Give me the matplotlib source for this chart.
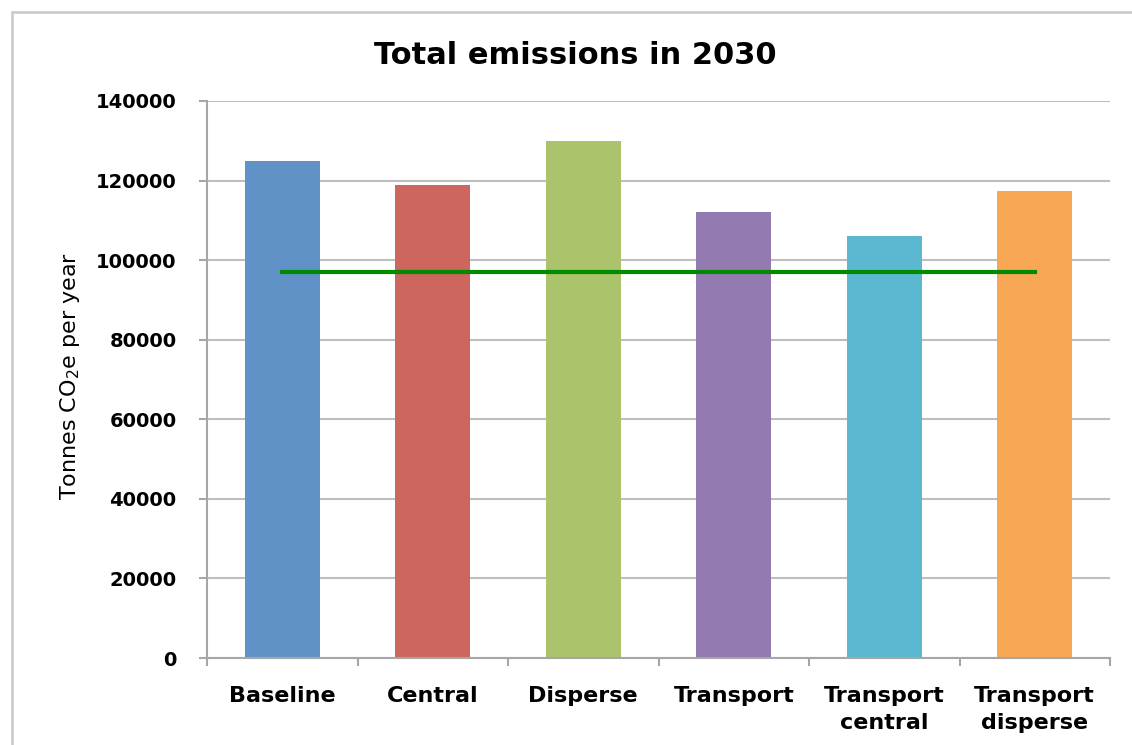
import matplotlib
matplotlib.use("Agg")
import matplotlib.pyplot as plt
from matplotlib.patches import Rectangle

# Scenario totals
categories = ["Baseline", "Central", "Disperse", "Transport", "Transport\ncentral", "Transport\ndisperse"]
emissions = [125000, 119000, 130000, 112000, 106000, 117500]
target = 97000
bar_colors = ["#6092C8", "#CD665E", "#ABC46B", "#937AB1", "#5CB7D1", "#F8A754"]
yticks = [0, 20000, 40000, 60000, 80000, 100000, 120000, 140000]

plt.rcParams["font.family"] = ["DejaVu Sans"]
plt.rcParams["mathtext.fontset"] = "dejavusans"

fig = plt.figure(figsize=(11.32, 7.45), dpi=100)
ax = fig.add_axes([207 / 1132, 1 - 658 / 745, (1110 - 207) / 1132, (658 - 101) / 745])

# outer chart frame
fig.patches.append(Rectangle((12 / 1132, -0.1), 1.2, 1 - 12 / 745 + 0.1,
                             transform=fig.transFigure, fill=False,
                             edgecolor="#C8C8C8", linewidth=1.8, zorder=0))

x = list(range(len(categories)))
ax.bar(x, emissions, width=0.5, color=bar_colors, zorder=2)
ax.plot([x[0], x[-1]], [target, target], color="#008A00", linewidth=3, zorder=3)

ax.set_xlim(-0.5, len(categories) - 0.5)
ax.set_ylim(0, 140000)
ax.set_yticks(yticks)
ax.set_yticklabels([str(v) for v in yticks], fontsize=14, fontweight="bold")
ax.yaxis.grid(True, color="#BEBEBE", linewidth=1.5, zorder=0)
ax.set_axisbelow(True)

ax.set_xticks(x)
ax.set_xticklabels(categories, fontsize=16, fontweight="bold", linespacing=1.45)
ax.tick_params(axis="x", length=0, pad=20)
ax.set_xticks([i - 0.5 for i in range(len(categories) + 1)], minor=True)
ax.tick_params(axis="x", which="minor", length=6, width=1.5, color="#A6A6A6")
ax.tick_params(axis="y", length=6, width=1.5, color="#A6A6A6", pad=16)

for side in ["top", "right"]:
    ax.spines[side].set_visible(False)
for side in ["left", "bottom"]:
    ax.spines[side].set_color("#A6A6A6")
    ax.spines[side].set_linewidth(1.5)

fig.text(70 / 1132, 1 - 376 / 745, "Tonnes CO$_2$e per year", fontsize=16,
         rotation=90, ha="center", va="center")
fig.text(575 / 1132, 1 - 56 / 745, "Total emissions in 2030", fontsize=22,
         fontweight="bold", ha="center", va="center")

fig.savefig("out.png", dpi=100)
